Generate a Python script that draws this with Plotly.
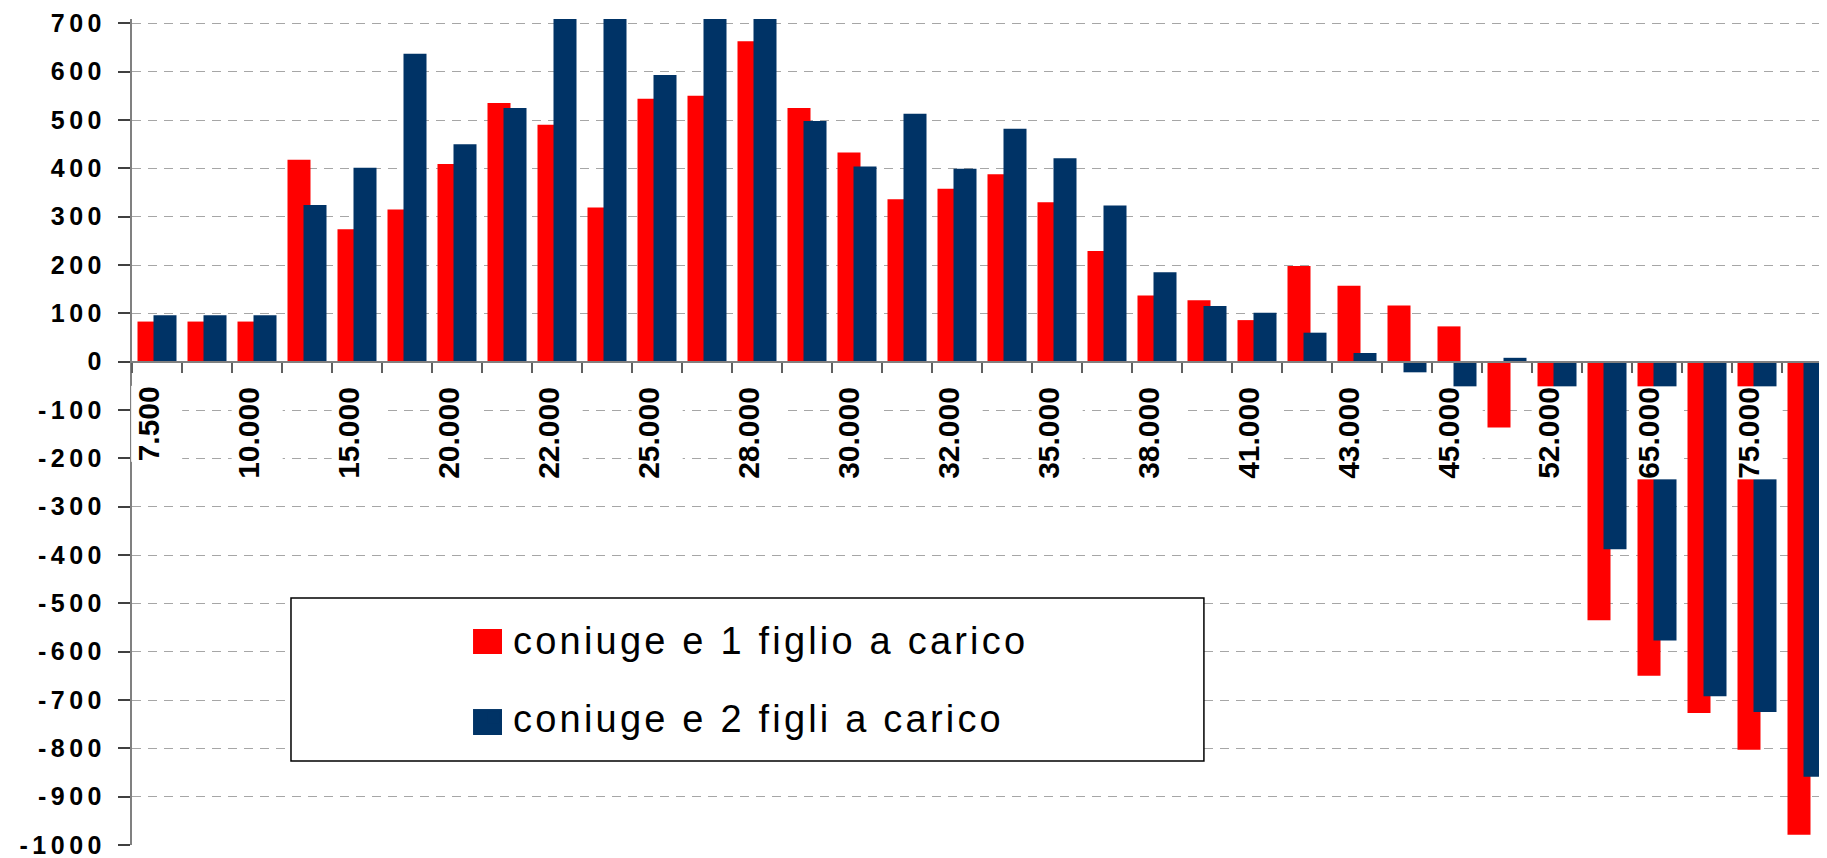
import plotly.graph_objects as go

# fasce di reddito (solo una su due ha l'etichetta visibile)
categorie = ["7.500", "8.500", "10.000", "12.500", "15.000", "17.500", "20.000", "21.000",
             "22.000", "23.500", "25.000", "26.500", "28.000", "29.000", "30.000", "31.000",
             "32.000", "33.500", "35.000", "36.500", "38.000", "40.000", "41.000", "42.000",
             "43.000", "44.000", "45.000", "50.000", "52.000", "55.000", "65.000", "70.000",
             "75.000", "80.000"]
etichette = ["7.500", "10.000", "15.000", "20.000", "22.000", "25.000", "28.000", "30.000",
             "32.000", "35.000", "38.000", "41.000", "43.000", "45.000", "52.000", "65.000",
             "75.000"]

coniuge_1_figlio = [83, 83, 83, 418, 274, 315, 409, 535, 490, 319, 544, 550, 663, 525, 433, 336,
                    358, 388, 330, 229, 137, 127, 86, 198, 157, 116, 73, -136, -240, -535, -650,
                    -727, -803, -979]
coniuge_2_figli = [96, 96, 96, 324, 401, 637, 450, 525, 735, 715, 593, 760, 790, 498, 404, 513,
                   399, 482, 421, 323, 185, 115, 101, 60, 18, -22, -70, 8, -200, -388, -577,
                   -692, -725, -859]

y_ticks = [-1000, -900, -800, -700, -600, -500, -400, -300, -200, -100,
           0, 100, 200, 300, 400, 500, 600, 700]

nomi = ["coniuge e 1 figlio a carico", "coniuge e 2 figli a carico"]
colori = ["#FF0000", "#003366"]
titolo = "(valori annui in euro)"

y_min, y_max = -1000, 709
FONT = "Liberation Sans, Arial, sans-serif"


def spaziato(testo, px):
    return '<span style="letter-spacing:%spx">%s</span>' % (px, testo)


fig = go.Figure()
fig.add_trace(go.Bar(x=categorie, y=coniuge_1_figlio, name=spaziato(nomi[0], 3.2),
                     marker=dict(color=colori[0], line=dict(width=0)),
                     offset=-0.39, width=0.46, legendgroup="a"))
fig.add_trace(go.Bar(x=categorie, y=coniuge_2_figli, name=spaziato(nomi[1], 3.2),
                     marker=dict(color=colori[1], line=dict(width=0)),
                     offset=-0.07, width=0.46, legendgroup="b"))

# etichette dell'asse x, con fondo bianco come nell'originale
for et in etichette:
    fig.add_annotation(x=categorie.index(et), y=-50, xref="x", yref="y", text=et,
                       showarrow=False, textangle=-90, xanchor="center", yanchor="top",
                       height=50, valign="top", bgcolor="white", borderpad=0,
                       font=dict(family=FONT, size=30, color="black", weight="bold"))

# titolo, quasi tutto fuori dall'immagine
fig.add_annotation(x=0.5, y=1, xref="paper", yref="paper", text=titolo, showarrow=False,
                   xanchor="center", yanchor="bottom", yshift=11,
                   font=dict(family=FONT, size=32, color="black", weight="bold"))

# cornice della legenda e quadratini più grandi dietro ai simboli
fig.add_shape(type="rect", xref="paper", yref="paper", x0=0.0938, x1=0.6324,
              y0=0.1017, y1=0.299, line=dict(color="black", width=1.5),
              fillcolor="white", layer="above")
fig.add_shape(type="rect", xref="paper", yref="paper", x0=0.2012, x1=0.2183,
              y0=0.2312, y1=0.2615, line_width=0, fillcolor=colori[0], layer="above")
fig.add_shape(type="rect", xref="paper", yref="paper", x0=0.2012, x1=0.2183,
              y0=0.1332, y1=0.1646, line_width=0, fillcolor=colori[1], layer="above")

fig.update_layout(
    width=1819, height=850,
    margin=dict(l=124, r=0, t=11, b=13),
    paper_bgcolor="white", plot_bgcolor="white",
    barmode="overlay",
    showlegend=True,
    legend=dict(x=0.2012, y=0.2875, xanchor="left", yanchor="top",
                bgcolor="rgba(0,0,0,0)", borderwidth=0,
                font=dict(family=FONT, size=38, color="black"),
                tracegroupgap=26),
    xaxis=dict(type="category", categoryorder="array", categoryarray=categorie,
               range=[-0.5, 33.4], showgrid=False, zeroline=False,
               showline=True, linecolor="#808080", linewidth=2,
               ticks="outside", ticklen=10, tickwidth=1.5, tickcolor="#606060",
               tickson="boundaries", tickmode="linear", tick0=0, dtick=1,
               showticklabels=False, anchor="free",
               position=(0 - y_min) / (y_max - y_min)),
    yaxis=dict(range=[y_min, y_max], tickmode="array", tickvals=y_ticks,
               ticktext=[spaziato(str(v), 4.5) for v in y_ticks],
               tickfont=dict(family=FONT, size=25, color="black", weight="bold"),
               ticks="outside", ticklen=12, tickwidth=2, tickcolor="#404040",
               showline=True, linecolor="#808080", linewidth=2,
               showgrid=True, gridcolor="#a6a6a6", gridwidth=1, griddash="9px,7px",
               zeroline=False, ticklabelstandoff=7, ticklabeloverflow="allow"),
)

fig.write_html("out.html")
